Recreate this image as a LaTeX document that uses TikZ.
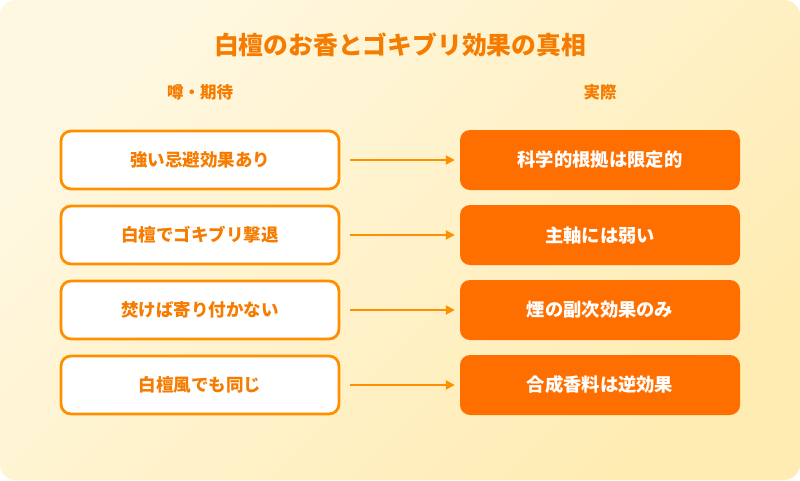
\documentclass[tikz,border=0pt]{standalone}
\usepackage{fontspec}
\setmainfont{Noto Sans CJK JP}[BoldFont={Noto Sans CJK JP Black}]
\usetikzlibrary{arrows.meta}
\definecolor{bgA}{HTML}{FFF8E1}
\definecolor{bgB}{HTML}{FFECB3}
\definecolor{title}{HTML}{F57C00}
\definecolor{amber}{HTML}{FF8F00}
\definecolor{deep}{HTML}{FF6F00}
\begin{document}
\begin{tikzpicture}[x=1pt,y=-1pt,
  myth/.style={draw=amber, line width=2.8pt, fill=white, rounded corners=10pt,
    minimum width=278pt, minimum height=58pt, inner sep=0pt,
    text=title, font=\bfseries\fontsize{17.5}{20}\selectfont},
  fact/.style={fill=deep, rounded corners=10pt,
    minimum width=280pt, minimum height=60pt, inner sep=0pt,
    text=white, font=\bfseries\fontsize{18.3}{20}\selectfont},
  arr/.style={draw=amber, line width=2pt, -{Triangle[length=9pt,width=9pt]}},
  hdr/.style={text=title, font=\bfseries\fontsize{16.5}{19}\selectfont},
]
\useasboundingbox (0,0) rectangle (800,480);
\fill[white] (0,0) rectangle (800,480);
\shade[rounded corners=16pt, top color=bgA, bottom color=bgB, shading angle=45] (0,0) rectangle (800,480);
\node[text=title, font=\bfseries\fontsize{24.8}{28}\selectfont] (ttl) at (400,45) {白檀のお香とゴキブリ効果の真相};
\node[hdr] (h1) at (200,92) {噂・期待};
\node[hdr] (h2) at (600,92) {実際};
\node[myth] (m1) at (200,160) {強い忌避効果あり};
\node[myth] (m2) at (200,235) {白檀でゴキブリ撃退};
\node[myth] (m3) at (200,310) {焚けば寄り付かない};
\node[myth] (m4) at (200,385) {白檀風でも同じ};
\node[fact] (f1) at (600,160) {科学的根拠は限定的};
\node[fact] (f2) at (600,235) {主軸には弱い};
\node[fact] (f3) at (600,310) {煙の副次効果のみ};
\node[fact] (f4) at (600,385) {合成香料は逆効果};
\foreach \i in {1,2,3,4} {
  \draw[arr] ([xshift=10pt]m\i.east) -- ([xshift=-5pt]f\i.west);
}
\end{tikzpicture}
\end{document}
